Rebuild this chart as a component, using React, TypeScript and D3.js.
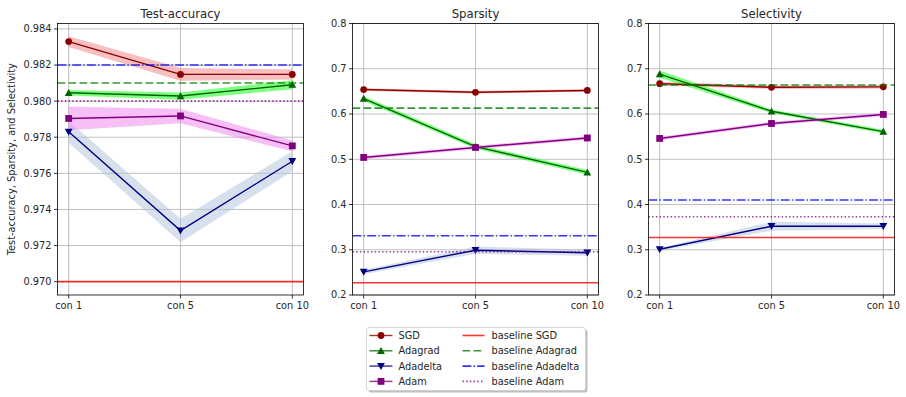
import * as d3 from "d3";

const conditions = ["con 1", "con 5", "con 10"];
const optimizers = ["SGD", "Adagrad", "Adadelta", "Adam"];

// Test-accuracy: means and half-widths of the shaded band
const accSGD = [0.9833, 0.98148, 0.98148];
const accSGDErr = [0.0003, 0.00035, 0.00028];
const accAdagrad = [0.98046, 0.98028, 0.98091];
const accAdagradErr = [0.00015, 0.0002, 0.00025];
const accAdadelta = [0.9783, 0.97283, 0.97667];
const accAdadeltaErr = [0.0006, 0.00065, 0.00055];
const accAdam = [0.97904, 0.97918, 0.97752];
const accAdamErr = [0.00065, 0.0004, 0.0003];
const accBaselines = [0.97, 0.981, 0.982, 0.98];

// Sparsity
const spSGD = [0.654, 0.648, 0.652];
const spSGDErr = [0.003, 0.003, 0.003];
const spAdagrad = [0.634, 0.528, 0.471];
const spAdagradErr = [0.005, 0.005, 0.005];
const spAdadelta = [0.251, 0.299, 0.2935];
const spAdadeltaErr = [0.005, 0.008, 0.007];
const spAdam = [0.504, 0.526, 0.547];
const spAdamErr = [0.004, 0.004, 0.004];
const spBaselines = [0.227, 0.613, 0.331, 0.2957];

// Selectivity
const selSGD = [0.667, 0.659, 0.66];
const selSGDErr = [0.004, 0.004, 0.004];
const selAdagrad = [0.688, 0.606, 0.561];
const selAdagradErr = [0.008, 0.004, 0.004];
const selAdadelta = [0.301, 0.352, 0.352];
const selAdadeltaErr = [0.003, 0.01, 0.006];
const selAdam = [0.546, 0.579, 0.599];
const selAdamErr = [0.004, 0.004, 0.004];
const selBaselines = [0.327, 0.664, 0.41, 0.373];

const accTicks = [0.970, 0.972, 0.974, 0.976, 0.978, 0.980, 0.982, 0.984];
const rateTicks = [0.2, 0.3, 0.4, 0.5, 0.6, 0.7, 0.8];

const lineColors = ["#8b0000", "#006400", "#000080", "#800080"];
const bandColors = ["#f08080", "#00ff00", "#b0c4de", "#ee82ee"];
const baseColors = ["#ff0000", "#008000", "#0000ff", "#800080"];
const baseDash = [null, "7.7,3.3", "8.9,2.2,1.4,2.2", "1.4,2.3"];
const markers = ["circle", "triUp", "triDown", "square"];

const panels = [
  {
    title: "Test-accuracy",
    left: 57.5,
    domain: [0.96926, 0.9843],
    ticks: accTicks,
    fmt: d3.format(".3f"),
    means: [accSGD, accAdagrad, accAdadelta, accAdam],
    errs: [accSGDErr, accAdagradErr, accAdadeltaErr, accAdamErr],
    baselines: accBaselines,
  },
  {
    title: "Sparsity",
    left: 352.5,
    domain: [0.2, 0.8],
    ticks: rateTicks,
    fmt: d3.format(".1f"),
    means: [spSGD, spAdagrad, spAdadelta, spAdam],
    errs: [spSGDErr, spAdagradErr, spAdadeltaErr, spAdamErr],
    baselines: spBaselines,
  },
  {
    title: "Selectivity",
    left: 648.5,
    domain: [0.2, 0.8],
    ticks: rateTicks,
    fmt: d3.format(".1f"),
    means: [selSGD, selAdagrad, selAdadelta, selAdam],
    errs: [selSGDErr, selAdagradErr, selAdadeltaErr, selAdamErr],
    baselines: selBaselines,
  },
];

const plotTop = 23.5;
const plotBottom = 295;
const plotWidth = 246;
const font = "DejaVu Sans, sans-serif";
const tickFont = 9.8;

function Marker({ kind, x, y, color }) {
  if (kind === "circle") return <circle cx={x} cy={y} r={3.4} fill={color} />;
  if (kind === "square") return <rect x={x - 3.4} y={y - 3.4} width={6.8} height={6.8} fill={color} />;
  const s = 3.9;
  const pts =
    kind === "triUp"
      ? [[x, y - s], [x - s, y + s * 0.8], [x + s, y + s * 0.8]]
      : [[x, y + s], [x - s, y - s * 0.8], [x + s, y - s * 0.8]];
  return <polygon points={pts.map((p) => p.join(",")).join(" ")} fill={color} />;
}

function Panel({ p, showYLabel }) {
  const x = d3.scaleLinear().domain([-0.1, 2.1]).range([p.left, p.left + plotWidth]);
  const y = d3.scaleLinear().domain(p.domain).range([plotBottom, plotTop]);
  const line = d3.line<number>().x((d, i) => x(i)).y((d) => y(d));
  const right = p.left + plotWidth;

  return (
    <g>
      <defs>
        <clipPath id={"clip-" + p.title}>
          <rect x={p.left} y={plotTop} width={plotWidth} height={plotBottom - plotTop} />
        </clipPath>
      </defs>
      {/* grid */}
      {p.ticks.map((t) => (
        <line key={"gy" + t} x1={p.left} x2={right} y1={y(t)} y2={y(t)} stroke="#b0b0b0" strokeWidth={0.8} />
      ))}
      {conditions.map((c, i) => (
        <line key={"gx" + c} x1={x(i)} x2={x(i)} y1={plotTop} y2={plotBottom} stroke="#b0b0b0" strokeWidth={0.8} />
      ))}
      <g clipPath={`url(#clip-${p.title})`}>
        {/* bands */}
        {p.means.map((m, k) => {
          const area = d3
            .area<number>()
            .x((d, i) => x(i))
            .y0((d, i) => y(d - p.errs[k][i]))
            .y1((d, i) => y(d + p.errs[k][i]));
          return <path key={"b" + k} d={area(m)} fill={bandColors[k]} fillOpacity={0.5} stroke="none" />;
        })}
        {/* lines */}
        {p.means.map((m, k) => (
          <g key={"l" + k}>
            <path d={line(m)} fill="none" stroke={lineColors[k]} strokeWidth={1.4} />
            {m.map((v, i) => (
              <Marker key={i} kind={markers[k]} x={x(i)} y={y(v)} color={lineColors[k]} />
            ))}
          </g>
        ))}
        {/* baselines */}
        {p.baselines.map((b, k) => (
          <line
            key={"bl" + k}
            x1={p.left}
            x2={right}
            y1={y(b)}
            y2={y(b)}
            stroke={baseColors[k]}
            strokeOpacity={0.8}
            strokeWidth={1.6}
            strokeDasharray={baseDash[k] ?? undefined}
          />
        ))}
      </g>
      {/* frame */}
      <rect x={p.left} y={plotTop} width={plotWidth} height={plotBottom - plotTop} fill="none" stroke="#000" strokeWidth={0.8} />
      {/* y ticks */}
      {p.ticks.map((t) => (
        <g key={"ty" + t}>
          <line x1={p.left - 3.5} x2={p.left} y1={y(t)} y2={y(t)} stroke="#000" strokeWidth={0.8} />
          <text x={p.left - 6} y={y(t)} dy="0.35em" textAnchor="end" fontSize={tickFont} fontFamily={font} fill="#262626">
            {p.fmt(t)}
          </text>
        </g>
      ))}
      {/* x ticks */}
      {conditions.map((c, i) => (
        <g key={"tx" + c}>
          <line x1={x(i)} x2={x(i)} y1={plotBottom} y2={plotBottom + 3.5} stroke="#000" strokeWidth={0.8} />
          <text x={x(i)} y={plotBottom + 14} textAnchor="middle" fontSize={tickFont} fontFamily={font} fill="#262626">
            {c}
          </text>
        </g>
      ))}
      <text x={p.left + plotWidth / 2} y={17.5} textAnchor="middle" fontSize={11.7} fontFamily={font} fill="#262626">
        {p.title}
      </text>
      {showYLabel && (
        <text
          transform={`translate(14.5,${(plotTop + plotBottom) / 2}) rotate(-90)`}
          textAnchor="middle"
          fontSize={tickFont}
          fontFamily={font}
          fill="#262626"
        >
          Test-accuracy, Sparsity, and Selectivity
        </text>
      )}
    </g>
  );
}

function Legend() {
  const lx = 366.5;
  const ly = 327.5;
  const rows = optimizers.map((_, i) => ly + 8 + i * 15.3);
  return (
    <g fontFamily={font} fontSize={tickFont} fill="#262626">
      <rect x={lx + 2} y={ly + 2} width={219} height={63} rx={2.5} fill="#000" fillOpacity={0.25} />
      <rect x={lx} y={ly} width={219} height={63} rx={2.5} fill="#fff" stroke="#cccccc" strokeWidth={0.8} />
      {optimizers.map((o, i) => (
        <g key={o}>
          <line x1={lx + 3} x2={lx + 26} y1={rows[i]} y2={rows[i]} stroke={lineColors[i]} strokeWidth={1.4} strokeOpacity={0.8} />
          <Marker kind={markers[i]} x={lx + 14.5} y={rows[i]} color={lineColors[i]} />
          <text x={lx + 32} y={rows[i]} dy="0.35em">{o}</text>
          <line
            x1={lx + 96}
            x2={lx + 118}
            y1={rows[i]}
            y2={rows[i]}
            stroke={baseColors[i]}
            strokeOpacity={0.8}
            strokeWidth={1.6}
            strokeDasharray={baseDash[i] ?? undefined}
          />
          <text x={lx + 125} y={rows[i]} dy="0.35em">{"baseline " + o}</text>
        </g>
      ))}
    </g>
  );
}

export default function App() {
  return (
    <svg width={906} height={397} style={{ position: "absolute", left: 0, top: 0, background: "#fff" }}>
      <rect width={906} height={397} fill="#fff" />
      {panels.map((p, i) => (
        <Panel key={p.title} p={p} showYLabel={i === 0} />
      ))}
      <Legend />
    </svg>
  );
}
